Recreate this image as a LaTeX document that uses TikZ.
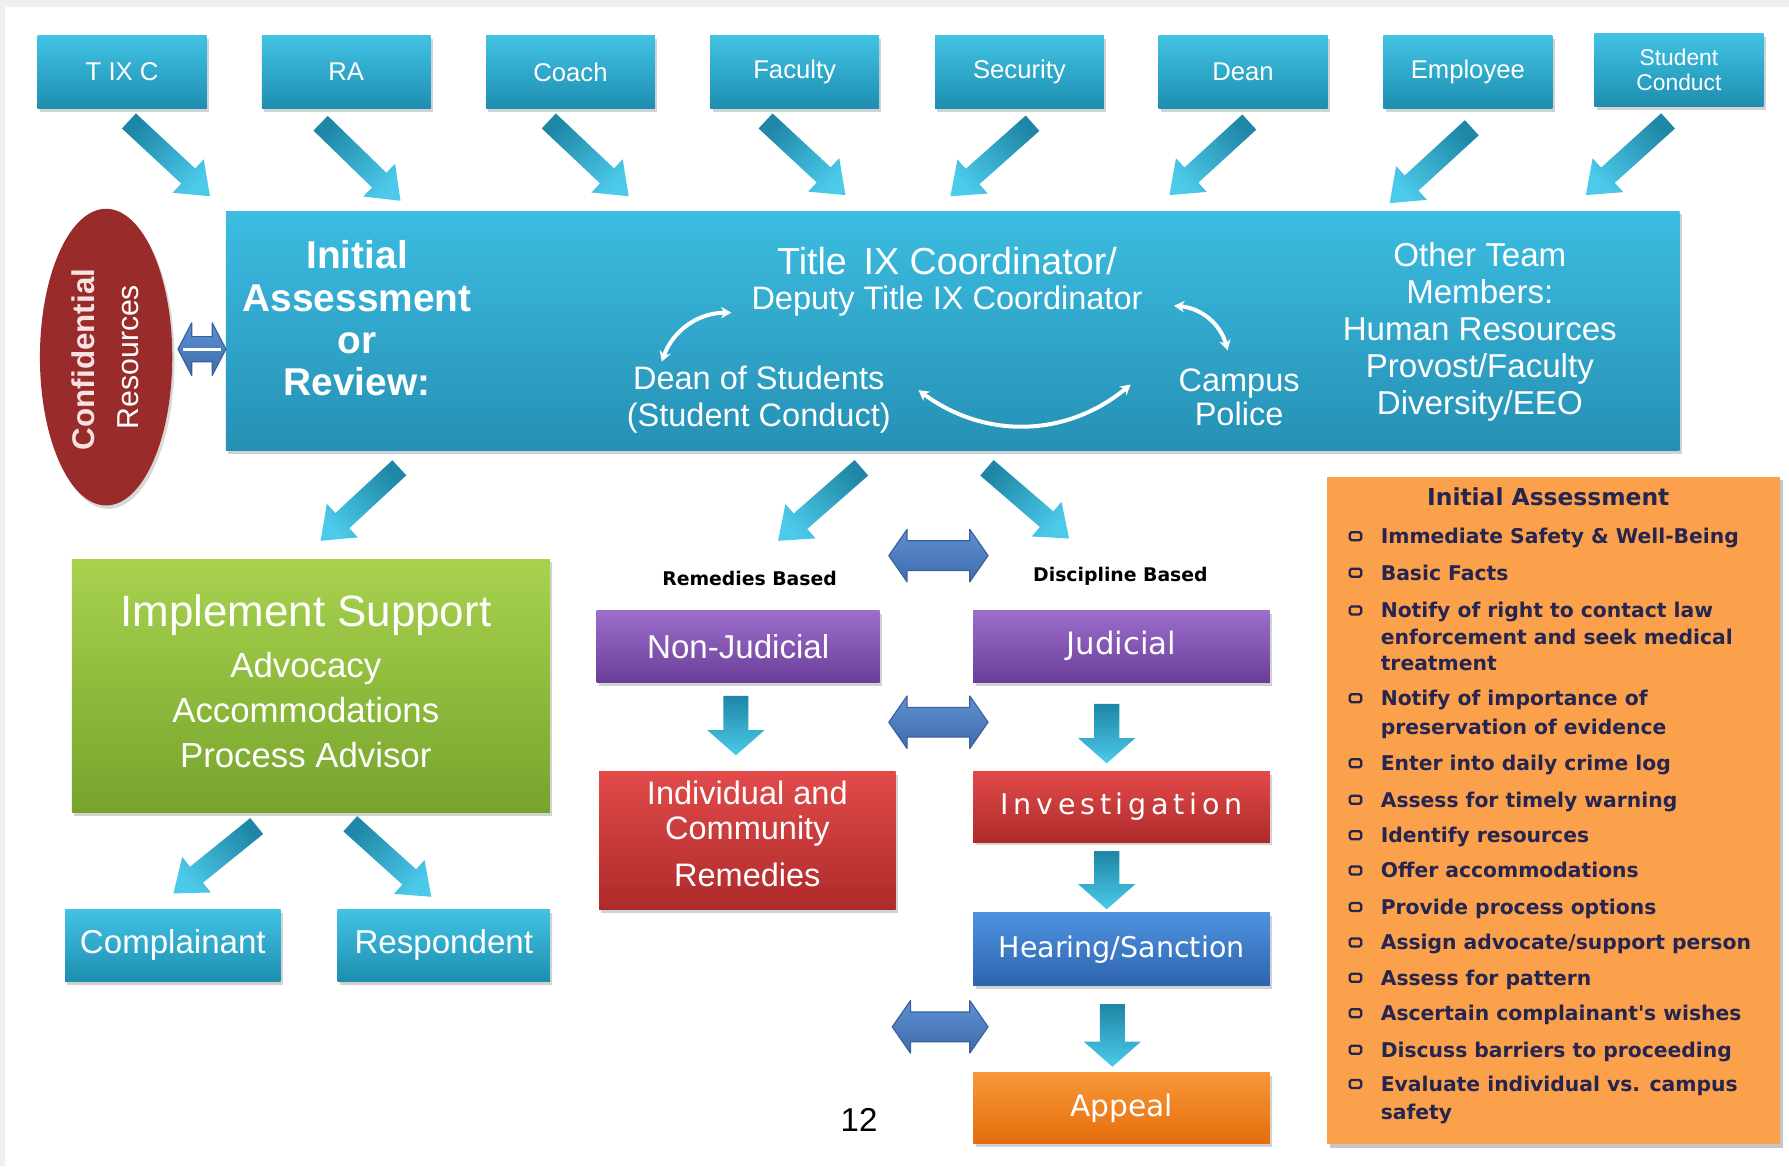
\documentclass[tikz,border=0pt]{standalone}
\usepackage{fontspec}
\setmainfont{Liberation Sans}
\newfontfamily\dv{DejaVu Sans}
\usetikzlibrary{calc,shadows,arrows.meta,shapes.geometric}
\newcommand\fsz[2]{\fontsize{#1}{#2}\selectfont}
\definecolor{tealL}{HTML}{4CCAEA}
\definecolor{tealD}{HTML}{1E86A6}
\definecolor{boxT}{HTML}{42C3E4}
\definecolor{boxB}{HTML}{1D8EB0}
\definecolor{mainT}{HTML}{3CBDE1}
\definecolor{mainB}{HTML}{2590B4}
\definecolor{crRed}{HTML}{9A2B2B}
\definecolor{grT}{HTML}{A8D24E}
\definecolor{grB}{HTML}{76A42C}
\definecolor{puT}{HTML}{9D6ECC}
\definecolor{puB}{HTML}{6A3E98}
\definecolor{reT}{HTML}{E24A4A}
\definecolor{reB}{HTML}{AE2A2A}
\definecolor{blT}{HTML}{4E93DF}
\definecolor{blB}{HTML}{2E63AE}
\definecolor{orT}{HTML}{F89838}
\definecolor{orB}{HTML}{E56D0C}
\definecolor{panel}{HTML}{FBA04B}
\definecolor{navy}{HTML}{25254F}
\definecolor{dblT}{HTML}{5E90D2}
\definecolor{dblB}{HTML}{3E6CAC}
\definecolor{dblE}{HTML}{3A609C}
\definecolor{bgGray}{HTML}{EFEFEF}
\definecolor{pinkW}{HTML}{F6E2E2}

\tikzset{
  box/.style={rectangle, inner sep=0pt, text=white, align=center,
    drop shadow={shadow xshift=2pt, shadow yshift=-3pt, opacity=0.35}},
  topbox/.style={box, top color=boxT, bottom color=boxB, minimum width=148pt, minimum height=64pt},
  wtxt/.style={text=white, align=center, inner sep=0pt},
  itemtxt/.style={text=navy, anchor=base west, inner sep=0pt, font=\dv\bfseries\fsz{17.8}{20}},
  bul/.style={draw=navy, line width=2pt, rounded corners=1.5pt, minimum width=10pt, minimum height=7pt, inner sep=0pt},
  curv/.style={white, line width=3.5pt, {Stealth[length=9pt,width=10pt]}-{Stealth[length=9pt,width=10pt]}},
}

% block arrow: name, tail, tip, half shaft, half head, head length, tail colour, tip colour
\newcommand\barrow[8]{%
  \coordinate (#1-t) at #2;
  \coordinate (#1-h) at #3;
  \coordinate (#1-n) at ($(#1-h)!#6pt!(#1-t)$);
  \pgfmathanglebetweenpoints{\pgfpointanchor{#1-t}{center}}{\pgfpointanchor{#1-h}{center}}%
  \pgfmathsetmacro\bSh{\pgfmathresult+90}%
  \shade[left color=#7, right color=#8, shading angle=\bSh]
    ($(#1-t)!#4pt!90:(#1-h)$) -- ($(#1-n)!#4pt!90:(#1-h)$) -- ($(#1-n)!#5pt!90:(#1-h)$)
    -- (#1-h) -- ($(#1-n)!#5pt!-90:(#1-h)$) -- ($(#1-n)!#4pt!-90:(#1-h)$)
    -- ($(#1-t)!#4pt!-90:(#1-h)$) -- cycle;
}
% horizontal double arrow: name, left x, right x, y, half shaft, half head, head length
\newcommand\darrow[7]{%
  \coordinate (#1-l) at (#2,#4);
  \coordinate (#1-r) at (#3,#4);
  \shade[top color=dblT, bottom color=dblB, draw=dblE, line width=1pt, line join=round]
    (#1-l) -- ($(#1-l)+(#7,-#6)$) -- ($(#1-l)+(#7,-#5)$) -- ($(#1-r)+(-#7,-#5)$)
    -- ($(#1-r)+(-#7,-#6)$) -- (#1-r) -- ($(#1-r)+(-#7,#6)$) -- ($(#1-r)+(-#7,#5)$)
    -- ($(#1-l)+(#7,#5)$) -- ($(#1-l)+(#7,#6)$) -- cycle;
}

\begin{document}
\begin{tikzpicture}[x=1pt,y=-1pt]
\useasboundingbox (0,0) rectangle (1568,1022);
\fill[bgGray] (0,0) rectangle (1568,1022);
\fill[white] (4,6) rectangle (1568,1022);

% ---------- top row ----------
\node[topbox, font=\fsz{22.5}{24}] (tixc) at (107,63)    {T IX C};
\node[topbox, font=\fsz{22.5}{24}] (ra)   at (303.5,63)  {RA};
\node[topbox, font=\fsz{22.5}{24}] (coach) at (500,63)   {Coach};
\node[topbox, font=\fsz{22.5}{24}] (fac)  at (696.5,63)  {Faculty};
\node[topbox, font=\fsz{22.5}{24}] (sec)  at (893.5,63)  {Security};
\node[topbox, font=\fsz{22.5}{24}] (dean) at (1089.5,63) {Dean};
\node[topbox, font=\fsz{22.5}{24}] (emp)  at (1286.5,63) {Employee};
\node[topbox, font=\fsz{20}{22}]   (sc)   at (1471.5,61) {Student\\Conduct};

\barrow{a1}{(113,106)}{(184,172)}{9}{20}{26}{tealD}{tealL}
\barrow{a2}{(281,108)}{(351,176)}{9}{20}{26}{tealD}{tealL}
\barrow{a3}{(481,106)}{(551,172)}{9}{20}{26}{tealD}{tealL}
\barrow{a4}{(671,106)}{(741,171)}{9}{20}{26}{tealD}{tealL}
\barrow{a5}{(905,108)}{(833,172)}{9}{20}{26}{tealD}{tealL}
\barrow{a6}{(1095,107)}{(1025,171)}{9}{20}{26}{tealD}{tealL}
\barrow{a7}{(1290,112)}{(1218,178)}{9}{20}{26}{tealD}{tealL}
\barrow{a8}{(1462,106)}{(1390,171)}{9}{20}{26}{tealD}{tealL}

% ---------- main box ----------
\node[box, top color=mainT, bottom color=mainB, minimum width=1274pt, minimum height=210pt] (main) at (835,290) {};
\node[wtxt, font=\bfseries\fsz{34}{37}] (ia) at (313,279) {Initial\\Assessment\\or\\Review:};
\node[wtxt, font=\fsz{33}{36}] (t9) at (830,229) {Title \,IX Coordinator/};
\node[wtxt, font=\fsz{28.5}{32}] (dep) at (830,264) {Deputy Title IX Coordinator};
\node[wtxt, font=\fsz{28.5}{32}] (dos) at (665,350) {Dean of Students\\(Student Conduct)};
\node[wtxt, font=\fsz{28.5}{30}] (cp) at (1086,348) {Campus\\Police};
\node[wtxt, font=\fsz{29}{32.5}] (other) at (1297,291) {Other Team\\Members:\\Human Resources\\Provost/Faculty\\Diversity/EEO};

\coordinate (lc1) at (580,317);
\coordinate (lc2) at (641,274);
\coordinate (rc1) at (1029,268);
\coordinate (rc2) at (1076,307);
\coordinate (bc1) at (805,342);
\coordinate (bc2) at (991,337);
\draw[curv] (lc1) to[bend left=35] (lc2);
\draw[curv] (rc1) to[bend left=35] (rc2);
\draw[curv] (bc1) to[bend right=38] (bc2);

% ---------- confidential resources ----------
\node[ellipse, fill=crRed, minimum width=116pt, minimum height=260pt, inner sep=0pt,
      drop shadow={shadow xshift=2pt, shadow yshift=-3pt, opacity=0.3}] (conf) at (93,313) {};
\node[inner sep=0pt, text=pinkW, rotate=90, font=\bfseries\fsz{27.5}{30}] (conft1) at (73,315) {Confidential};
\node[inner sep=0pt, text=white, rotate=90, font=\fsz{26.5}{30}] (conft2) at (112,313) {Resources};
\darrow{cx}{156}{198}{306}{11}{23}{12}
\draw[white, line width=2.5pt] (cx-l) ++(4,0) -- ($(cx-r)+(-4,0)$);

% ---------- arrows below main ----------
\barrow{b1}{(350,410)}{(281,474)}{9}{20}{26}{tealD}{tealL}
\barrow{b2}{(755,410)}{(682,474)}{9}{20}{26}{tealD}{tealL}
\barrow{b3}{(865,410)}{(937,472)}{9}{20}{26}{tealD}{tealL}

% ---------- support branch ----------
\node[box, top color=grT, bottom color=grB, minimum width=419pt, minimum height=222pt] (sup) at (272.5,601) {};
\node[wtxt, font=\fsz{38.5}{40}] (suph) at (268,539) {Implement Support};
\node[wtxt, font=\fsz{30.5}{39.5}] (supl) at (268,622) {Advocacy\\Accommodations\\Process Advisor};
\barrow{c1}{(225,724)}{(152,783)}{9}{20}{26}{tealD}{tealL}
\barrow{c2}{(307,722)}{(378,786)}{9}{20}{26}{tealD}{tealL}
\node[topbox, minimum width=189pt, minimum height=63pt, font=\fsz{29}{30}] (comp) at (151.5,828.5) {Complainant};
\node[topbox, minimum width=186pt, minimum height=63pt, font=\fsz{29}{30}] (resp) at (389,828.5) {Respondent};

% ---------- remedies / discipline ----------
\node[inner sep=0pt, font=\dv\bfseries\fsz{16.5}{18}] (remb) at (657,507) {Remedies Based};
\node[inner sep=0pt, font=\dv\bfseries\fsz{16.5}{18}] (disb) at (982,505) {Discipline Based};

\node[box, top color=puT, bottom color=puB, minimum width=248pt, minimum height=63pt, font=\fsz{29}{30}] (nonj) at (647,566.5) {Non-Judicial};
\node[box, top color=puT, bottom color=puB, minimum width=260pt, minimum height=63pt, font=\dv\fsz{27}{30}] (jud) at (983,566.5) {Judicial};
\node[box, top color=reT, bottom color=reB, minimum width=260pt, minimum height=121pt] (icr) at (655,736.5) {};
\node[wtxt, font=\fsz{28.5}{30}] (icrt1) at (655,713) {Individual and\\Community};
\node[wtxt, font=\fsz{28.5}{30}] (icrt2) at (655,767) {Remedies};
\node[box, top color=reT, bottom color=reB, minimum width=260pt, minimum height=62pt, font=\dv\fsz{25}{28}] (inv) at (983,707) {I\,n\,v\,e\,s\,t\,i\,g\,a\,t\,i\,o\,n};
\node[box, top color=blT, bottom color=blB, minimum width=260pt, minimum height=64pt, font=\dv\fsz{25}{28}] (hear) at (983,832) {Hearing/Sanction};
\node[box, top color=orT, bottom color=orB, minimum width=260pt, minimum height=62pt, font=\dv\fsz{26}{28}] (app) at (983,971) {Appeal};

\barrow{d1}{(645,610)}{(645,662)}{11}{25}{22}{tealD}{tealL}
\barrow{d2}{(970,617)}{(970,669)}{11}{25}{22}{tealD}{tealL}
\barrow{d3}{(970,746)}{(970,797)}{11}{25}{22}{tealD}{tealL}
\barrow{d4}{(975,880)}{(975,935)}{11}{25}{22}{tealD}{tealL}

\darrow{h1}{779}{866}{487}{13}{23}{16}
\darrow{h2}{779}{866}{633}{13}{23}{16}
\darrow{h3}{782}{866}{900}{13}{23}{16}

\node[inner sep=0pt, font=\fsz{29}{30}] (pgno) at (753,982) {12};

% ---------- initial assessment panel ----------
\node[rectangle, fill=panel, minimum width=397pt, minimum height=585pt, inner sep=0pt,
      drop shadow={shadow xshift=2.5pt, shadow yshift=-3pt, opacity=0.45}] (panel) at (1361.5,710.5) {};
\node[inner sep=0pt, text=navy, font=\dv\bfseries\fsz{20.5}{22}] (pt) at (1357,435) {Initial Assessment};

\newcommand\oitem[3]{%
  \node[bul] (#1-b) at (1188,#2) {};
  \node[itemtxt] (#1) at (1210,#2+6.5) {#3};}
\newcommand\oline[3]{\node[itemtxt] (#1) at (1210,#2+6.5) {#3};}

\oitem{i1}{470}{Immediate Safety \& Well-Being}
\oitem{i2}{502}{Basic Facts}
\oitem{i3}{535}{Notify of right to contact law}
\oline{i3b}{558}{enforcement and seek medical}
\oline{i3c}{581}{treatment}
\oitem{i4}{612}{Notify of importance of}
\oline{i4b}{637}{preservation of evidence}
\oitem{i5}{669}{Enter into daily crime log}
\oitem{i6}{701}{Assess for timely warning}
\oitem{i7}{732}{Identify resources}
\oitem{i8}{763}{Offer accommodations}
\oitem{i9}{795}{Provide process options}
\oitem{i10}{826}{Assign advocate/support person}
\oitem{i11}{857}{Assess for pattern}
\oitem{i12}{888}{Ascertain complainant's wishes}
\oitem{i13}{920}{Discuss barriers to proceeding}
\oitem{i14}{950}{Evaluate individual vs. campus}
\oline{i14b}{975}{safety}
\end{tikzpicture}
\end{document}
